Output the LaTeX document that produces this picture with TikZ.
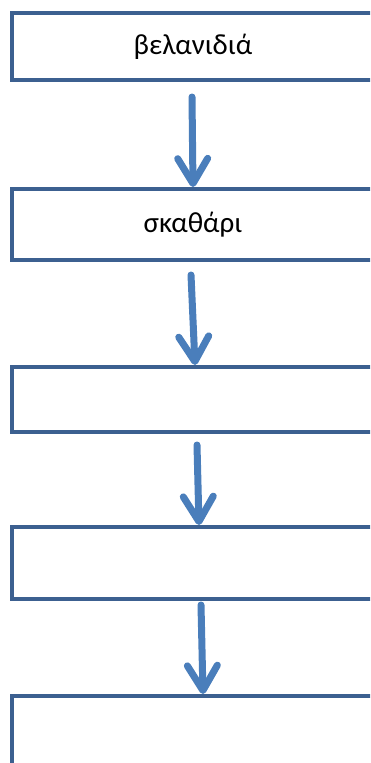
\documentclass[tikz,border=0pt]{standalone}
\usepackage{fontspec}
\setmainfont{Carlito}
\usetikzlibrary{arrows.meta}
\definecolor{boxblue}{HTML}{3C6090}
\definecolor{arrblue}{HTML}{4A7EBB}
\begin{document}
\begin{tikzpicture}[x=1pt,y=-1pt,
        stage/.style={draw=boxblue, line width=4pt, minimum width=362pt, inner sep=0pt, font=\fontsize{29}{34}\selectfont},
        flow/.style={draw=arrblue, line width=7pt, line cap=round, -{Straight Barb[length=25pt,width=30pt,round]}}]
        \clip (0,0) rectangle (370,763);
        \node[stage, minimum height=67pt] (acorn) at (193,46.5) {βελανιδιά};
        \node[stage, minimum height=71pt] (beetle) at (193,224.5) {σκαθάρι};
        \node[stage, minimum height=65pt] (third) at (193,399.5) {};
        \node[stage, minimum height=72pt] (fourth) at (193,563) {};
        \node[stage, minimum height=90pt] (fifth) at (193,741) {};
        \draw[flow]([xshift=-1pt,yshift=-15pt]acorn.south)--(beetle.north);
        \draw[flow]([xshift=-2pt,yshift=-13pt]beetle.south)--([xshift=2pt]third.north);
        \draw[flow]([xshift=4pt,yshift=-11pt]third.south)--([xshift=6pt]fourth.north);
        \draw[flow]([xshift=8pt,yshift=-4pt]fourth.south)--([xshift=10pt]fifth.north);
    \end{tikzpicture}
\end{document}
